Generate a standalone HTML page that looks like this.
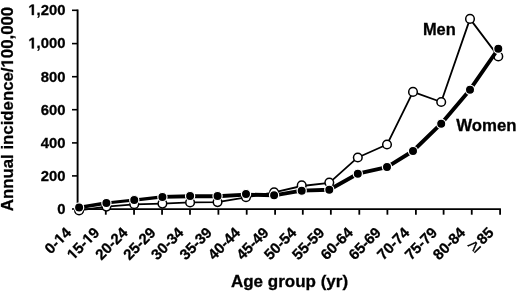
<!DOCTYPE html>
<html><head><meta charset="utf-8"><style>html,body{margin:0;padding:0;background:#fff;}svg{display:block;filter:grayscale(1);}text{font-family:"Liberation Sans",sans-serif;font-weight:bold;fill:#000;stroke:#000;stroke-width:0.3px;}.h{fill:none;stroke:none;}</style></head><body>
<svg width="520" height="293" viewBox="0 0 520 293">
<path d="M77.6 9.55V209.1H500.9" fill="none" stroke="#000" stroke-width="1.9"></path>
<line x1="72" y1="10.3" x2="77.6" y2="10.3" stroke="#000" stroke-width="1.6"></line>
<line x1="72" y1="43.6" x2="77.6" y2="43.6" stroke="#000" stroke-width="1.6"></line>
<line x1="72" y1="76.7" x2="77.6" y2="76.7" stroke="#000" stroke-width="1.6"></line>
<line x1="72" y1="109.7" x2="77.6" y2="109.7" stroke="#000" stroke-width="1.6"></line>
<line x1="72" y1="142.9" x2="77.6" y2="142.9" stroke="#000" stroke-width="1.6"></line>
<line x1="72" y1="175.9" x2="77.6" y2="175.9" stroke="#000" stroke-width="1.6"></line>
<line x1="72" y1="209.0" x2="77.6" y2="209.0" stroke="#000" stroke-width="1.6"></line>
<line x1="105.80" y1="209.1" x2="105.80" y2="214.7" stroke="#000" stroke-width="1.8"></line>
<line x1="134.05" y1="209.1" x2="134.05" y2="214.7" stroke="#000" stroke-width="1.8"></line>
<line x1="162.05" y1="209.1" x2="162.05" y2="214.7" stroke="#000" stroke-width="1.8"></line>
<line x1="190.00" y1="209.1" x2="190.00" y2="214.7" stroke="#000" stroke-width="1.8"></line>
<line x1="218.40" y1="209.1" x2="218.40" y2="214.7" stroke="#000" stroke-width="1.8"></line>
<line x1="246.70" y1="209.1" x2="246.70" y2="214.7" stroke="#000" stroke-width="1.8"></line>
<line x1="275.10" y1="209.1" x2="275.10" y2="214.7" stroke="#000" stroke-width="1.8"></line>
<line x1="302.80" y1="209.1" x2="302.80" y2="214.7" stroke="#000" stroke-width="1.8"></line>
<line x1="330.85" y1="209.1" x2="330.85" y2="214.7" stroke="#000" stroke-width="1.8"></line>
<line x1="359.30" y1="209.1" x2="359.30" y2="214.7" stroke="#000" stroke-width="1.8"></line>
<line x1="387.40" y1="209.1" x2="387.40" y2="214.7" stroke="#000" stroke-width="1.8"></line>
<line x1="415.90" y1="209.1" x2="415.90" y2="214.7" stroke="#000" stroke-width="1.8"></line>
<line x1="443.60" y1="209.1" x2="443.60" y2="214.7" stroke="#000" stroke-width="1.8"></line>
<line x1="471.75" y1="209.1" x2="471.75" y2="214.7" stroke="#000" stroke-width="1.8"></line>
<line x1="500.10" y1="209.1" x2="500.10" y2="214.7" stroke="#000" stroke-width="1.8"></line>
<text transform="translate(65.5,15.10) scale(0.97,1)" font-size="15.3" text-anchor="end"><tspan class="h">1</tspan>,200</text><path d="M478 0V1170L140 959V1180L493 1409H759V0Z" transform="translate(65.5,15.10) scale(0.97,1) translate(-38.289,0.000) scale(0.007471,-0.007471)" fill="#000" stroke="#000" stroke-width="40.157"></path>
<text transform="translate(65.5,48.40) scale(0.97,1)" font-size="15.3" text-anchor="end"><tspan class="h">1</tspan>,000</text><path d="M478 0V1170L140 959V1180L493 1409H759V0Z" transform="translate(65.5,48.40) scale(0.97,1) translate(-38.289,0.000) scale(0.007471,-0.007471)" fill="#000" stroke="#000" stroke-width="40.157"></path>
<text transform="translate(65.5,81.50) scale(0.97,1)" font-size="15.3" text-anchor="end">800</text>
<text transform="translate(65.5,114.50) scale(0.97,1)" font-size="15.3" text-anchor="end">600</text>
<text transform="translate(65.5,147.70) scale(0.97,1)" font-size="15.3" text-anchor="end">400</text>
<text transform="translate(65.5,180.70) scale(0.97,1)" font-size="15.3" text-anchor="end">200</text>
<text transform="translate(65.5,213.80) scale(0.97,1)" font-size="15.3" text-anchor="end">0</text>
<text transform="translate(13,109) rotate(-90)" font-size="16.8" text-anchor="middle">Annual incidence/<tspan class="h">1</tspan>00,000</text><path d="M478 0V1170L140 959V1180L493 1409H759V0Z" transform="translate(13,109) rotate(-90) translate(41.469,0.000) scale(0.008203,-0.008203)" fill="#000" stroke="#000" stroke-width="36.571"></path>
<text x="289.5" y="286.9" font-size="17" text-anchor="middle">Age group (yr)</text>
<text transform="translate(72.1,233.5) rotate(-45)" font-size="15" text-anchor="end">0-<tspan class="h">1</tspan>4</text><path d="M478 0V1170L140 959V1180L493 1409H759V0Z" transform="translate(72.1,233.5) rotate(-45) translate(-16.688,0.000) scale(0.007324,-0.007324)" fill="#000" stroke="#000" stroke-width="40.960"></path>
<text transform="translate(100.3,233.5) rotate(-45)" font-size="15" text-anchor="end"><tspan class="h">1</tspan>5-<tspan class="h">1</tspan>9</text><path d="M478 0V1170L140 959V1180L493 1409H759V0Z" transform="translate(100.3,233.5) rotate(-45) translate(-16.688,0.000) scale(0.007324,-0.007324)" fill="#000" stroke="#000" stroke-width="40.960"></path><path d="M478 0V1170L140 959V1180L493 1409H759V0Z" transform="translate(100.3,233.5) rotate(-45) translate(-38.375,0.000) scale(0.007324,-0.007324)" fill="#000" stroke="#000" stroke-width="40.960"></path>
<text transform="translate(128.6,233.5) rotate(-45)" font-size="15" text-anchor="end">20-24</text>
<text transform="translate(156.6,233.5) rotate(-45)" font-size="15" text-anchor="end">25-29</text>
<text transform="translate(184.5,233.5) rotate(-45)" font-size="15" text-anchor="end">30-34</text>
<text transform="translate(212.9,233.5) rotate(-45)" font-size="15" text-anchor="end">35-39</text>
<text transform="translate(241.2,233.5) rotate(-45)" font-size="15" text-anchor="end">40-44</text>
<text transform="translate(269.6,233.5) rotate(-45)" font-size="15" text-anchor="end">45-49</text>
<text transform="translate(297.3,233.5) rotate(-45)" font-size="15" text-anchor="end">50-54</text>
<text transform="translate(325.4,233.5) rotate(-45)" font-size="15" text-anchor="end">55-59</text>
<text transform="translate(353.8,233.5) rotate(-45)" font-size="15" text-anchor="end">60-64</text>
<text transform="translate(381.9,233.5) rotate(-45)" font-size="15" text-anchor="end">65-69</text>
<text transform="translate(410.4,233.5) rotate(-45)" font-size="15" text-anchor="end">70-74</text>
<text transform="translate(438.1,233.5) rotate(-45)" font-size="15" text-anchor="end">75-79</text>
<text transform="translate(466.2,233.5) rotate(-45)" font-size="15" text-anchor="end">80-84</text>
<text transform="translate(494.6,233.5) rotate(-45)" font-size="15" text-anchor="end"><tspan font-weight="normal" font-size="18">≥</tspan><tspan dx="1.8">85</tspan></text>
<polyline points="79.1,210.4 106.4,206.6 134.25,204.3 162.4,203.6 190.1,202.4 217.55,202.1 246,197.3 274.1,192.3 301.7,186.0 329.3,182.8 357.8,157.45 387,144.55 413,91.9 441.2,102 470,18.9 498.3,56.4" fill="none" stroke="#000" stroke-width="1.8" stroke-linejoin="round"></polyline>
<circle cx="79.1" cy="210.4" r="4.3" fill="#fff" stroke="#000" stroke-width="1.5"></circle>
<circle cx="106.4" cy="206.6" r="4.3" fill="#fff" stroke="#000" stroke-width="1.5"></circle>
<circle cx="134.25" cy="204.3" r="4.3" fill="#fff" stroke="#000" stroke-width="1.5"></circle>
<circle cx="162.4" cy="203.6" r="4.3" fill="#fff" stroke="#000" stroke-width="1.5"></circle>
<circle cx="190.1" cy="202.4" r="4.3" fill="#fff" stroke="#000" stroke-width="1.5"></circle>
<circle cx="217.55" cy="202.1" r="4.3" fill="#fff" stroke="#000" stroke-width="1.5"></circle>
<circle cx="246" cy="197.3" r="4.3" fill="#fff" stroke="#000" stroke-width="1.5"></circle>
<circle cx="274.1" cy="192.3" r="4.3" fill="#fff" stroke="#000" stroke-width="1.5"></circle>
<circle cx="301.7" cy="185.4" r="4.3" fill="#fff" stroke="#000" stroke-width="1.5"></circle>
<circle cx="329.3" cy="182.5" r="4.3" fill="#fff" stroke="#000" stroke-width="1.5"></circle>
<circle cx="357.8" cy="157.45" r="4.3" fill="#fff" stroke="#000" stroke-width="1.5"></circle>
<circle cx="387" cy="144.55" r="4.3" fill="#fff" stroke="#000" stroke-width="1.5"></circle>
<circle cx="413" cy="91.9" r="4.3" fill="#fff" stroke="#000" stroke-width="1.5"></circle>
<circle cx="441.2" cy="102" r="4.3" fill="#fff" stroke="#000" stroke-width="1.5"></circle>
<circle cx="470" cy="18.9" r="4.3" fill="#fff" stroke="#000" stroke-width="1.5"></circle>
<circle cx="498.3" cy="56.4" r="4.3" fill="#fff" stroke="#000" stroke-width="1.5"></circle>
<line x1="79.1" y1="207.45" x2="106.4" y2="203" stroke="#000" stroke-width="3.6"></line>
<line x1="106.4" y1="203" x2="134.25" y2="200.1" stroke="#000" stroke-width="3.0"></line>
<line x1="134.25" y1="200.1" x2="162.4" y2="196.9" stroke="#000" stroke-width="3.4"></line>
<polyline points="162.4,196.9 190.1,196.3 217.55,196.2 246,194.6 274.1,195.3 301.7,190.65 329.3,189.7 357.8,173.7 387,167.2 413,151 441.2,123.7 470,89.7 498.3,48.75" fill="none" stroke="#000" stroke-width="3.9" stroke-linejoin="round"></polyline>
<circle cx="79.1" cy="207.45" r="4.6" fill="#000" stroke="#fff" stroke-width="1.2"></circle>
<circle cx="106.4" cy="203" r="4.6" fill="#000" stroke="#fff" stroke-width="1.2"></circle>
<circle cx="134.25" cy="200.1" r="4.6" fill="#000" stroke="#fff" stroke-width="1.2"></circle>
<circle cx="162.4" cy="196.9" r="4.6" fill="#000" stroke="#fff" stroke-width="1.2"></circle>
<circle cx="190.1" cy="195.9" r="4.6" fill="#000" stroke="#fff" stroke-width="1.2"></circle>
<circle cx="217.55" cy="195.9" r="4.6" fill="#000" stroke="#fff" stroke-width="1.2"></circle>
<circle cx="246" cy="193.9" r="4.6" fill="#000" stroke="#fff" stroke-width="1.2"></circle>
<circle cx="274.1" cy="195.3" r="4.6" fill="#000" stroke="#fff" stroke-width="1.2"></circle>
<circle cx="301.7" cy="190.65" r="4.6" fill="#000" stroke="#fff" stroke-width="1.2"></circle>
<circle cx="329.3" cy="189.7" r="4.6" fill="#000" stroke="#fff" stroke-width="1.2"></circle>
<circle cx="357.8" cy="173.7" r="4.6" fill="#000" stroke="#fff" stroke-width="1.2"></circle>
<circle cx="387" cy="167.0" r="4.6" fill="#000" stroke="#fff" stroke-width="1.2"></circle>
<circle cx="413" cy="151" r="4.6" fill="#000" stroke="#fff" stroke-width="1.2"></circle>
<circle cx="441.2" cy="123.7" r="4.6" fill="#000" stroke="#fff" stroke-width="1.2"></circle>
<circle cx="470" cy="89.7" r="4.6" fill="#000" stroke="#fff" stroke-width="1.2"></circle>
<circle cx="498.3" cy="48.75" r="4.6" fill="#000" stroke="#fff" stroke-width="1.2"></circle>
<text x="422.9" y="34.5" font-size="16.4">Men</text>
<text x="456.2" y="130.6" font-size="16.8">Women</text>
</svg></body></html>
